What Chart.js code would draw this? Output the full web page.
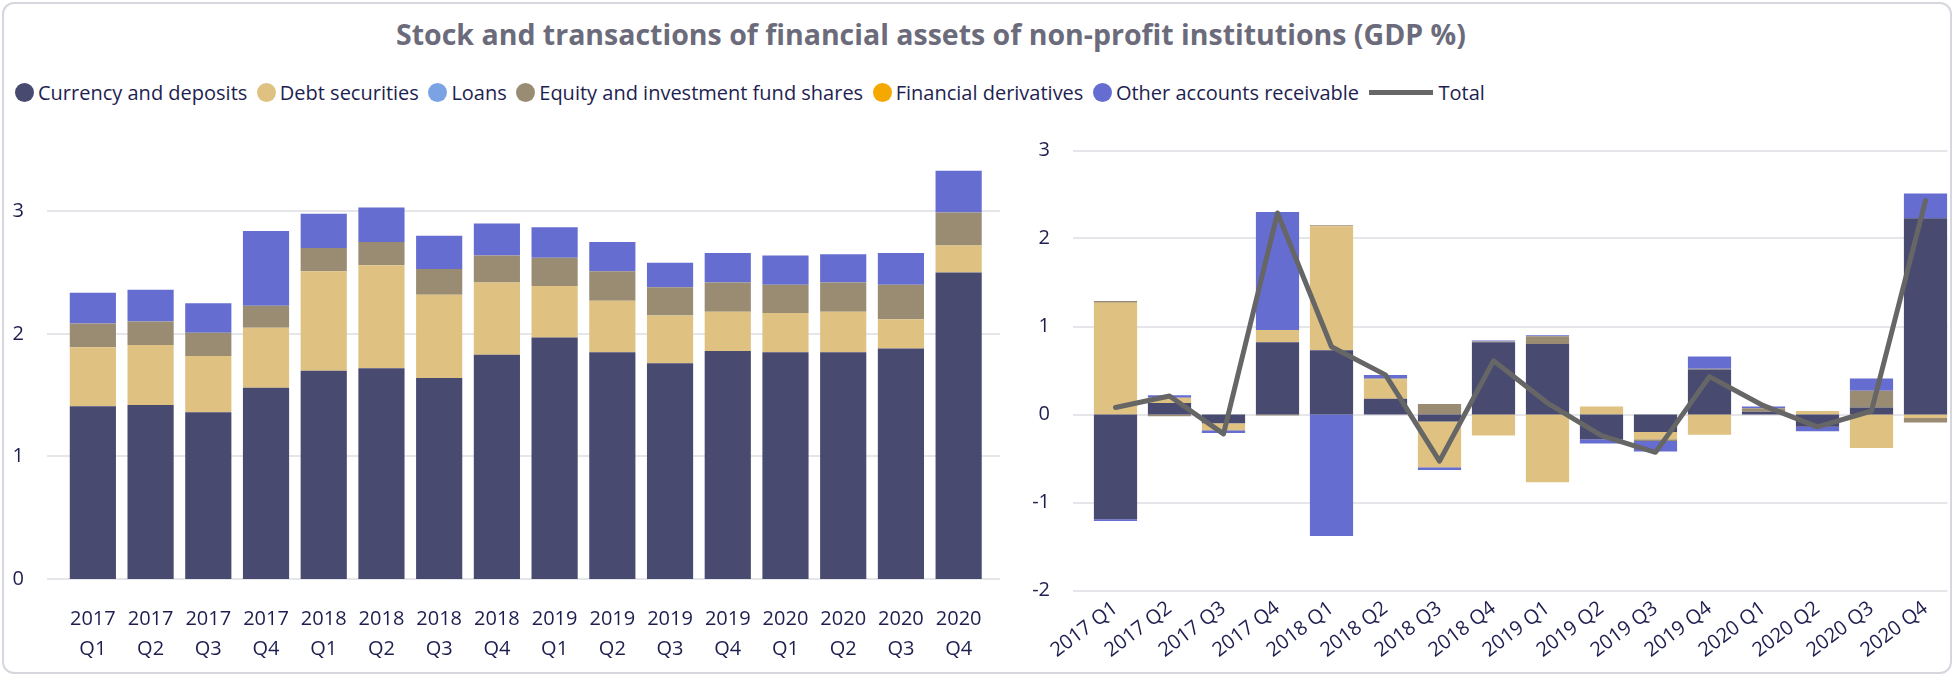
<!DOCTYPE html>
<html>
<head>
<meta charset="utf-8">
<script src="https://cdn.jsdelivr.net/npm/chart.js@4"></script>
<style>
  body { margin: 0; background: #fff; width: 1954px; height: 676px; overflow: hidden; font-family: 'Open Sans', sans-serif; }
  #marco { position: absolute; left: 2px; top: 2px; width: 1950px; height: 672px; box-sizing: border-box; border: 2px solid #d6d6de; border-radius: 12px; }
  #titulo { position: absolute; left: 396px; top: 15px; font-size: 28.5px; font-weight: 700; color: #6b6b7b; white-space: nowrap; }
  #leyenda { position: absolute; left: 15px; top: 79px; display: flex; align-items: center; font-size: 20px; color: #1e1e50; white-space: nowrap; }
  #leyenda .item { display: flex; align-items: center; margin-right: 9.5px; }
  #leyenda .punto { width: 19px; height: 19px; border-radius: 50%; margin-right: 4px; }
  #leyenda .linea { width: 64px; height: 5px; margin-right: 6px; }
  canvas { position: absolute; top: 120px; }
  #graficoStock { left: 0px; }
  #graficoFlujos { left: 1000px; }
</style>
</head>
<body>
<div id="marco"></div>
<div id="titulo">Stock and transactions of financial assets of non-profit institutions (GDP %)</div>
<div id="leyenda"></div>
<canvas id="graficoStock" width="1000" height="553"></canvas>
<canvas id="graficoFlujos" width="954" height="553"></canvas>
<script>
const trimestres = ["2017 Q1", "2017 Q2", "2017 Q3", "2017 Q4", "2018 Q1", "2018 Q2", "2018 Q3", "2018 Q4",
  "2019 Q1", "2019 Q2", "2019 Q3", "2019 Q4", "2020 Q1", "2020 Q2", "2020 Q3", "2020 Q4"];

const series = ["Currency and deposits", "Debt securities", "Loans", "Equity and investment fund shares",
  "Financial derivatives", "Other accounts receivable"];
const colores = ["#484a6f", "#dfc281", "#7ba3e3", "#9a8c73", "#f5a800", "#666dd1"];
const colorTotal = "#666666";

// stock (izquierda)
const stockMoneda = [1.41, 1.42, 1.36, 1.56, 1.70, 1.72, 1.64, 1.83, 1.97, 1.85, 1.76, 1.86, 1.85, 1.85, 1.88, 2.50];
const stockDeuda = [0.48, 0.49, 0.46, 0.49, 0.81, 0.84, 0.68, 0.59, 0.42, 0.42, 0.39, 0.32, 0.32, 0.33, 0.24, 0.22];
const stockPrestamos = [0, 0, 0, 0, 0, 0, 0, 0, 0, 0, 0, 0, 0, 0, 0, 0];
const stockAcciones = [0.195, 0.19, 0.19, 0.18, 0.19, 0.19, 0.21, 0.22, 0.23, 0.24, 0.23, 0.24, 0.23, 0.24, 0.28, 0.27];
const stockDerivados = [0, 0, 0, 0, 0, 0, 0, 0, 0, 0, 0, 0, 0, 0, 0, 0];
const stockOtras = [0.25, 0.26, 0.24, 0.61, 0.28, 0.28, 0.27, 0.26, 0.25, 0.24, 0.20, 0.24, 0.24, 0.23, 0.26, 0.34];

// transacciones (derecha)
const flujoMoneda = [-1.19, 0.13, -0.10, 0.82, 0.73, 0.18, -0.08, 0.82, 0.80, -0.28, -0.20, 0.51, 0.03, -0.14, 0.08, 2.23];
const flujoDeuda = [1.27, 0.06, -0.08, 0.14, 1.41, 0.22, -0.52, -0.24, -0.77, 0.09, -0.08, -0.23, 0, 0.04, -0.38, -0.04];
const flujoPrestamos = [0, 0, 0, 0, 0, 0, 0, 0, 0, 0, 0, 0, 0, 0, 0, 0];
const flujoAcciones = [0.02, -0.02, 0, -0.01, 0.01, 0.01, 0.12, 0.01, 0.09, 0, -0.02, 0.01, 0.04, 0, 0.19, -0.05];
const flujoDerivados = [0, 0, 0, 0, 0, 0, 0, 0, 0, 0, 0, 0, 0, 0, 0, 0];
const flujoOtras = [-0.02, 0.03, -0.03, 1.34, -1.38, 0.04, -0.03, 0.01, 0.01, -0.05, -0.12, 0.14, 0.02, -0.05, 0.14, 0.28];
const flujoTotal = [0.08, 0.21, -0.22, 2.29, 0.77, 0.45, -0.53, 0.61, 0.13, -0.24, -0.43, 0.43, 0.10, -0.14, 0.04, 2.43];

const ticksStock = [0, 1, 2, 3];
const ticksFlujos = [-2, -1, 0, 1, 2, 3];

const colorTexto = "#1e1e50";
const fuente = "'Open Sans', sans-serif";

// leyenda html compartida
function armarLeyenda() {
  const cont = document.getElementById("leyenda");
  series.forEach((nombre, i) => {
    cont.insertAdjacentHTML("beforeend",
      `<div class="item"><span class="punto" style="background:${colores[i]}"></span>${nombre}</div>`);
  });
  cont.insertAdjacentHTML("beforeend",
    `<div class="item"><span class="linea" style="background:${colorTotal}"></span>Total</div>`);
}

// lineas de la grilla un poco mas largas que el area del grafico
const lineasGuia = {
  id: "lineasGuia",
  beforeDatasetsDraw(chart, args, opts) {
    const { ctx, chartArea, scales } = chart;
    ctx.save();
    ctx.strokeStyle = "#e6e6ea";
    ctx.lineWidth = 2;
    scales.y.ticks.forEach((t) => {
      const y = Math.round(scales.y.getPixelForValue(t.value));
      ctx.beginPath();
      ctx.moveTo(chartArea.left - opts.izq, y);
      ctx.lineTo(chartArea.right + opts.der, y);
      ctx.stroke();
    });
    ctx.restore();
  },
};

function datasetsBarras(valores) {
  return valores.map((data, i) => ({
    type: "bar",
    label: series[i],
    data: data,
    backgroundColor: colores[i],
    categoryPercentage: 0.8,
    barPercentage: 1.0,
    order: 1,
  }));
}

// el espacio entre etiqueta y grilla va en tickLength (ticks.padding tambien agranda arriba/abajo)
function ejeY(ticksLista, max, ancho, sep) {
  return {
    stacked: true,
    min: ticksLista[0],
    max: max,
    grid: { display: false, drawTicks: true, tickLength: sep },
    border: { display: false },
    ticks: { stepSize: 1, padding: 0, color: colorTexto, font: { family: fuente, size: 20 } },
    afterBuildTicks: (ax) => { ax.ticks = ticksLista.map((v) => ({ value: v })); },
    afterFit: (s) => { s.width = ancho; },
  };
}

armarLeyenda();

new Chart(document.getElementById("graficoStock"), {
  data: {
    labels: trimestres.map((t) => t.split(" ")),
    datasets: datasetsBarras([stockMoneda, stockDeuda, stockPrestamos, stockAcciones, stockDerivados, stockOtras]),
  },
  options: {
    responsive: false,
    animation: false,
    layout: { padding: { top: 30, right: 12.5, left: 0, bottom: 0 } },
    plugins: { legend: { display: false }, tooltip: { enabled: false }, lineasGuia: { izq: 17, der: 18.5 } },
    scales: {
      x: {
        stacked: true,
        grid: { display: false, drawTicks: true, tickLength: 25 },
        border: { display: false },
        ticks: { padding: 0, maxRotation: 0, autoSkip: false, color: colorTexto, font: { family: fuente, size: 20, lineHeight: 1.5 } },
        afterFit: (s) => { s.height = 94; },
      },
      y: ejeY(ticksStock, 3.5, 64, 40),
    },
  },
  plugins: [lineasGuia],
});

const barrasFlujo = datasetsBarras([flujoMoneda, flujoDeuda, flujoPrestamos, flujoAcciones, flujoDerivados, flujoOtras]);
barrasFlujo.push({
  type: "line",
  label: "Total",
  data: flujoTotal,
  borderColor: colorTotal,
  borderWidth: 5,
  borderCapStyle: "round",
  borderJoinStyle: "round",
  pointRadius: 0,
  tension: 0,
  order: 0,
});

new Chart(document.getElementById("graficoFlujos"), {
  data: { labels: trimestres, datasets: barrasFlujo },
  options: {
    responsive: false,
    animation: false,
    layout: { padding: { top: 30.5, right: 1.5, left: 0, bottom: 0 } },
    plugins: { legend: { display: false }, tooltip: { enabled: false }, lineasGuia: { izq: 15.5, der: -5 } },
    scales: {
      x: {
        stacked: true,
        grid: { display: false, drawTicks: true, tickLength: 6 },
        border: { display: false },
        ticks: { padding: 0, minRotation: 37, maxRotation: 37, autoSkip: false, color: colorTexto, font: { family: fuente, size: 20 } },
        afterFit: (s) => { s.height = 82.5; },
      },
      y: ejeY(ticksFlujos, 3, 88.5, 38.5),
    },
  },
  plugins: [lineasGuia],
});
</script>
</body>
</html>
